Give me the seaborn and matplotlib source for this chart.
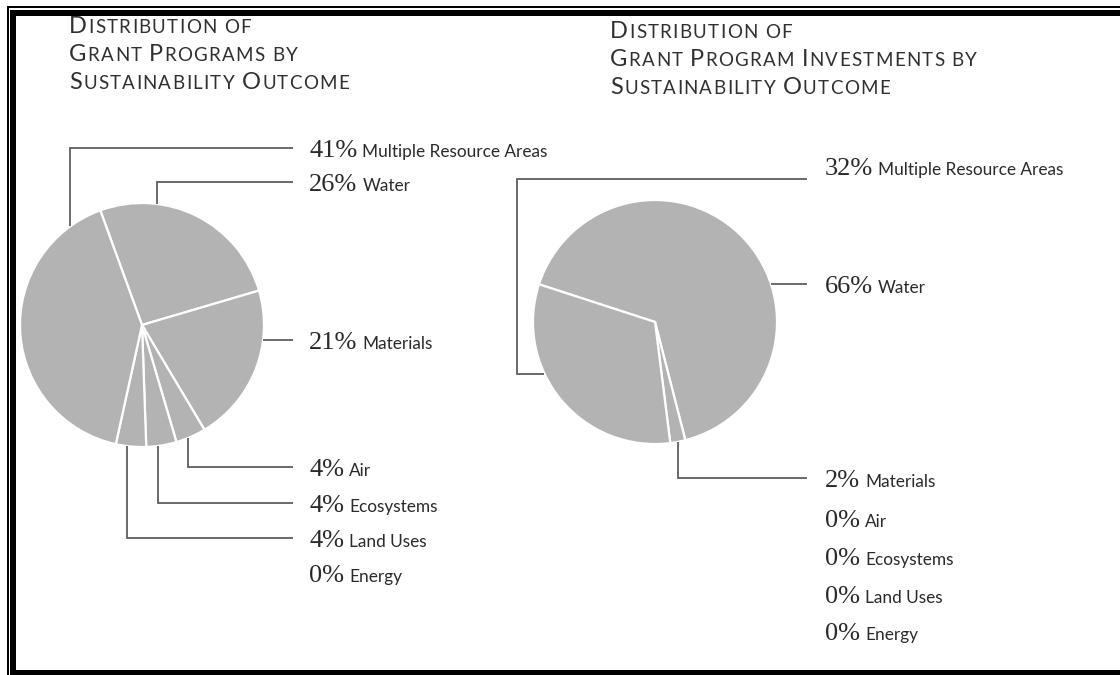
import matplotlib
matplotlib.use("Agg")
import numpy as np
import matplotlib.pyplot as plt
import seaborn as sns
from matplotlib.patches import Rectangle
from matplotlib.lines import Line2D
from matplotlib.transforms import IdentityTransform

# ---------------------------------------------------------------- data
categories = ["Multiple Resource Areas", "Water", "Materials", "Air",
              "Ecosystems", "Land Uses", "Energy"]
programs_pct = [41, 26, 21, 4, 4, 4, 0]
investments_pct = [32, 66, 2, 0, 0, 0, 0]

title_programs = ["Distribution of", "Grant Programs by", "Sustainability Outcome"]
title_investments = ["Distribution of", "Grant Program Investments by",
                     "Sustainability Outcome"]

# slices are laid clockwise in this order
draw_order = ["Water", "Materials", "Air", "Ecosystems", "Land Uses", "Energy",
              "Multiple Resource Areas"]

# ---------------------------------------------------------------- style
sns.set_theme(style="white")
plt.rcParams["font.family"] = ["Lato", "DejaVu Sans"]

W, H, DPI = 1120, 675, 100
SLICE = "#b3b3b3"
INK = "#2a2a2a"
LEAD = "#5e5e5e"
NUM_FONT = ["Liberation Serif", "DejaVu Serif"]
LAB_FONT = ["Lato", "DejaVu Sans"]
NUM_SIZE, LAB_SIZE = 19, 12.4
TITLE_BIG, TITLE_SMALL, TRACKING = 17, 13.5, 1.3

fig = plt.figure(figsize=(W / DPI, H / DPI), dpi=DPI)
fig.patch.set_facecolor("white")
renderer = fig.canvas.get_renderer()
PIX = IdentityTransform()


def line_px(xs, ys, lw=1.3, color=LEAD):
    fig.add_artist(Line2D(list(xs), [H - y for y in ys], transform=PIX,
                          color=color, lw=lw, solid_capstyle="butt",
                          solid_joinstyle="miter"))


def box_px(x0, y0, x1, y1):
    fig.add_artist(Rectangle((x0, H - y1), x1 - x0, y1 - y0, transform=PIX,
                             facecolor="black", edgecolor="none"))


def text_width(s, size, fam):
    t = fig.text(0, 0, s, fontsize=size, family=fam, transform=PIX)
    w = t.get_window_extent(renderer).width
    t.remove()
    return w


_advances = {}


def advance(ch, size, fam):
    key = (ch, size)
    if key not in _advances:
        _advances[key] = text_width("H" + ch + "H", size, fam) - text_width("HH", size, fam)
    return _advances[key]


def put_run(x, baseline, pieces, color=INK):
    for text, size, fam, gap in pieces:
        t = fig.text(x, H - baseline, text, fontsize=size, family=fam,
                     color=color, va="baseline", ha="left", transform=PIX)
        x = t.get_window_extent(renderer).x1 + gap


def put_small_caps(x, baseline, line, color="#303030", word_gap=6):
    """Title line in small capitals, set letter by letter with tracking."""
    for word in line.split(" "):
        for ch in word:
            size = TITLE_BIG if ch.isupper() else TITLE_SMALL
            c = ch.upper()
            fig.text(x, H - baseline, c, fontsize=size, family=LAB_FONT,
                     color=color, va="baseline", ha="left", transform=PIX)
            x += advance(c, size, LAB_FONT) + TRACKING
        x += word_gap


def draw_pie(values, center, radius, start):
    cx, cy = center
    ax = fig.add_axes([(cx - radius) / W, (H - cy - radius) / H,
                       2 * radius / W, 2 * radius / H])
    vals = dict(zip(categories, values))
    names = [n for n in draw_order if vals[n] > 0]
    sizes = [vals[n] for n in names]
    ax.pie(sizes, startangle=start, counterclock=False,
           colors=[SLICE] * len(sizes),
           wedgeprops=dict(edgecolor="white", linewidth=1.6))
    ax.set_xlim(-1, 1)
    ax.set_ylim(-1, 1)
    ax.set_aspect("equal")
    ax.axis("off")


def on_circle(center, radius, angle):
    a = np.deg2rad(angle)
    return center[0] + radius * np.cos(a), center[1] - radius * np.sin(a)


def label_rows(x, rows, values):
    for name, val in zip(categories, values):
        y = rows[name]
        put_run(x, y + 9, [(f"{val}%", NUM_SIZE, NUM_FONT, 5),
                           (name, LAB_SIZE, LAB_FONT, 0)])


# ---------------------------------------------------------------- frame
box_px(7, 5.5, W, 7.5)
box_px(6.5, 5.5, 8.5, H)
box_px(10, 10, W, 16)
box_px(10, 10, 16, H)
box_px(10, 670, W, H)

# ---------------------------------------------------------------- left pie
c1, r1 = (142, 325), 122
draw_pie(programs_pct, c1, r1, start=110)
end1 = 293
rows1 = {"Multiple Resource Areas": 148, "Water": 182, "Materials": 340,
         "Air": 467, "Ecosystems": 503, "Land Uses": 538, "Energy": 573}

for name, ang in [("Multiple Resource Areas", 126), ("Water", 83),
                  ("Air", -68), ("Ecosystems", -82.5), ("Land Uses", -97)]:
    ax_, ay_ = on_circle(c1, r1, ang)
    yrow = rows1[name]
    line_px([ax_, ax_, end1], [ay_, yrow, yrow])
ax_, ay_ = on_circle(c1, r1, np.rad2deg(np.arcsin((c1[1] - rows1["Materials"]) / r1)))
line_px([ax_, end1], [rows1["Materials"]] * 2)

label_rows(309, rows1, programs_pct)

# ---------------------------------------------------------------- right pie
c2, r2 = (655, 322), 122
draw_pie(investments_pct, c2, r2, start=162)
end2 = 807
rows2 = {"Multiple Resource Areas": 166, "Water": 284, "Materials": 478,
         "Air": 518, "Ecosystems": 556, "Land Uses": 594, "Energy": 631}

mx, my = on_circle(c2, r2, 205)
line_px([mx, 517, 517, end2], [my, my, 179, 179])
wx, wy = on_circle(c2, r2, np.rad2deg(np.arcsin((c2[1] - rows2["Water"]) / r2)))
line_px([wx, end2], [rows2["Water"]] * 2)
tx, ty = on_circle(c2, r2, -79)
line_px([tx, tx, end2], [ty, rows2["Materials"], rows2["Materials"]])

label_rows(825, rows2, investments_pct)

# ---------------------------------------------------------------- titles
for line, base in zip(title_programs, [33, 61, 89]):
    put_small_caps(69, base, line)
for line, base in zip(title_investments, [38, 66, 94]):
    put_small_caps(610, base, line)

fig.savefig("out.png", dpi=DPI, facecolor="white")
